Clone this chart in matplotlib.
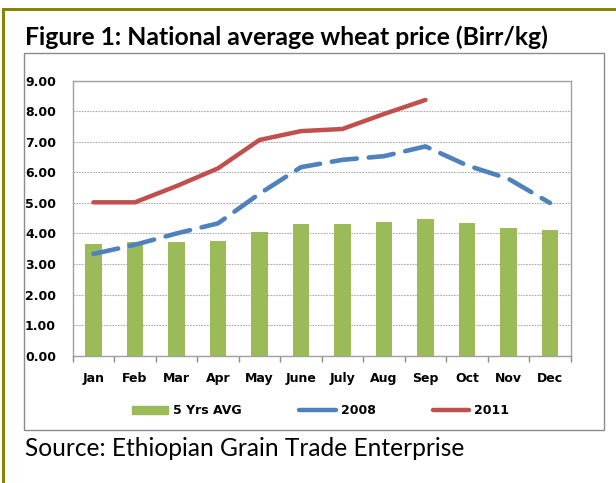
import matplotlib
matplotlib.use("Agg")
import matplotlib.pyplot as plt
from matplotlib.patches import Rectangle
from matplotlib.lines import Line2D
from matplotlib.patches import Patch

months = ["Jan", "Feb", "Mar", "Apr", "May", "June", "July", "Aug", "Sep", "Oct", "Nov", "Dec"]
avg5 = [3.65, 3.71, 3.71, 3.75, 4.05, 4.31, 4.30, 4.37, 4.48, 4.33, 4.18, 4.11]
y2008 = [3.33, 3.63, 4.00, 4.33, 5.30, 6.17, 6.41, 6.53, 6.85, 6.23, 5.79, 5.00]
y2011 = [5.02, 5.02, 5.55, 6.13, 7.06, 7.35, 7.42, 7.91, 8.37]
yticks = [0, 1, 2, 3, 4, 5, 6, 7, 8, 9]

W, H = 616, 483
fig = plt.figure(figsize=(W / 100, H / 100), dpi=100)

def fx(x):
    return x / W

def fy(y):
    return 1 - y / H

GREEN = "#9BBB59"
BLUE = "#4F81BD"
RED = "#C0504D"
OLIVE = "#868600"

# olive frame
fig.add_artist(Rectangle((fx(2), fy(11)), fx(616) - fx(2), fy(8) - fy(11),
                         transform=fig.transFigure, color=OLIVE, lw=0))
fig.add_artist(Rectangle((fx(2), fy(483)), fx(5) - fx(2), fy(8) - fy(483),
                         transform=fig.transFigure, color=OLIVE, lw=0))
# chart box
fig.add_artist(Rectangle((fx(24.3), fy(430)), fx(604) - fx(24.3), fy(53.3) - fy(430),
                         transform=fig.transFigure, fill=False, edgecolor="#8c8c8c", lw=1))

L, R, T, B = 72.7, 570.7, 80.7, 355.7
ax = fig.add_axes([fx(L), fy(B), fx(R) - fx(L), fy(T) - fy(B)])

x = list(range(len(months)))
bars = ax.bar(x, avg5, width=0.4, color=GREEN, zorder=2)
l08, = ax.plot(x, y2008, color=BLUE, lw=3.3, dashes=(5.5, 2.6), solid_capstyle="round",
               dash_capstyle="round", zorder=3)
l11, = ax.plot(x[:len(y2011)], y2011, color=RED, lw=3.2, solid_capstyle="round", zorder=4)

ax.set_xlim(-0.5, 11.5)
ax.set_ylim(0, 9)
ax.set_yticks(yticks)
ax.set_yticklabels([f"{v:.2f}" for v in yticks], fontsize=9, fontweight="bold",
                   family="DejaVu Sans")
ax.set_xticks(x)
ax.set_xticklabels(months, fontsize=9, fontweight="bold", family="DejaVu Sans")
ax.set_xticks([i - 0.5 for i in range(13)], minor=True)
ax.tick_params(axis="y", length=0, pad=12)
ax.tick_params(axis="x", which="major", length=0, pad=12)
ax.tick_params(axis="x", which="minor", length=4.5, color="#8c8c8c", width=1)
ax.yaxis.grid(True, linestyle=(0, (1.5, 1)), color="#ababab", lw=0.8, zorder=0)
ax.set_axisbelow(True)
for s in ax.spines.values():
    s.set_color("#a0a0a0")
    s.set_linewidth(1)

handles = [Patch(color=GREEN),
           Line2D([], [], color=BLUE, lw=3.2, solid_capstyle="round"),
           Line2D([], [], color=RED, lw=3.2, solid_capstyle="round")]
leg = fig.legend(handles, ["5 Yrs AVG", "2008", "2011"], ncol=3, loc="center",
                 bbox_to_anchor=(fx(320.5), fy(410.7)), frameon=False,
                 prop={"size": 9, "weight": "bold", "family": "DejaVu Sans"},
                 handlelength=2.9, handleheight=0.6, handletextpad=0.4,
                 columnspacing=4.6, borderpad=0, borderaxespad=0)

title = fig.text(fx(25), fy(45), "Figure 1: National average wheat price (Birr/kg)",
                 fontsize=15, fontweight="bold", family="Lato", va="baseline", ha="left")
source = fig.text(fx(25), fy(456.5), "Source: Ethiopian Grain Trade Enterprise",
                  fontsize=15, family="Lato", va="baseline", ha="left")

fig.canvas.draw()
r = fig.canvas.get_renderer()
for t, target in ((title, 525), (source, 440)):
    w = t.get_window_extent(r).width
    t.set_fontsize(t.get_fontsize() * target / w)

fig.savefig("out.png", dpi=100)
